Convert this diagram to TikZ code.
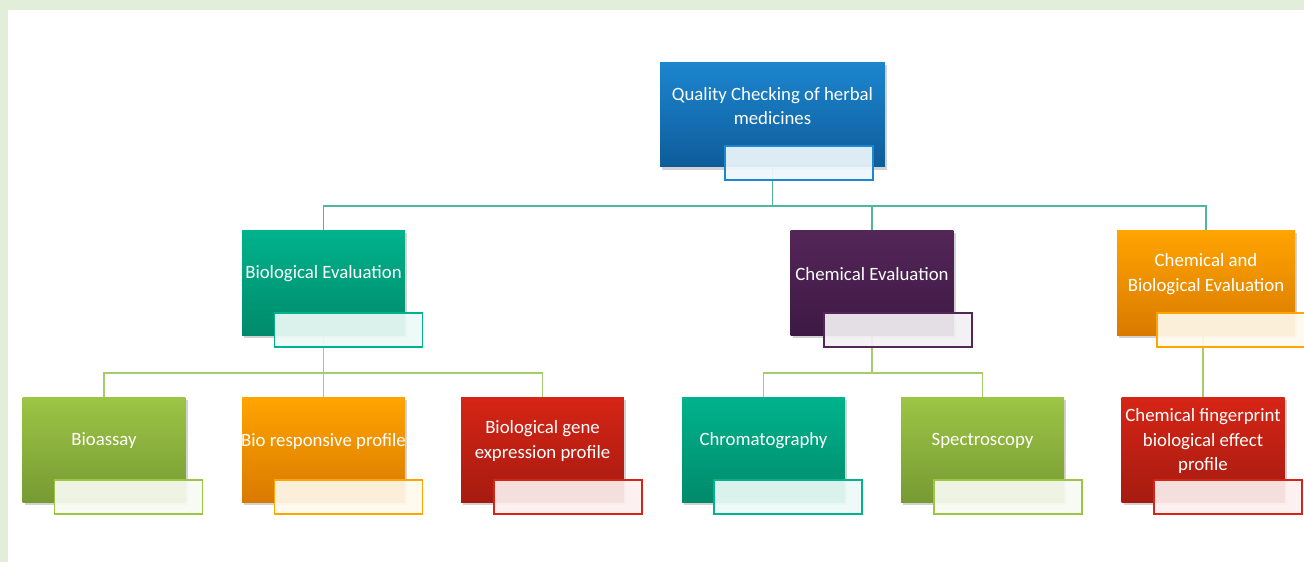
\documentclass[tikz,border=0pt]{standalone}
\usepackage{fontspec}
\setmainfont{Carlito}
\usetikzlibrary{positioning,shadows,backgrounds}

\definecolor{blueA}{HTML}{1C86CF}
\definecolor{blueB}{HTML}{0E5C9A}
\definecolor{tealA}{HTML}{00B38C}
\definecolor{tealB}{HTML}{008A6B}
\definecolor{plumA}{HTML}{532658}
\definecolor{plumB}{HTML}{3E1944}
\definecolor{amberA}{HTML}{FFA400}
\definecolor{amberB}{HTML}{D97A00}
\definecolor{leafA}{HTML}{9DC545}
\definecolor{leafB}{HTML}{779A33}
\definecolor{brickA}{HTML}{D52516}
\definecolor{brickB}{HTML}{A61B10}
\definecolor{frame}{HTML}{E2EED9}
\definecolor{linkT}{HTML}{4FB89C}
\definecolor{linkG}{HTML}{A6CB6A}

\tikzset{
  box/.style={rectangle, inner sep=0pt, minimum width=3.26cm, minimum height=2.1cm,
              top color=#1A, bottom color=#1B,
              drop shadow={shadow xshift=1.2pt, shadow yshift=-1.5pt, opacity=.35}},
  tag/.style={rectangle, inner sep=0pt, minimum width=2.96cm, minimum height=0.68cm,
              draw=#1A, line width=0.75pt, fill=#1A!7, fill opacity=.92},
  lbl/.style={text=white, align=center, inner sep=0pt,
              font=\fontsize{10.7}{14}\selectfont},
  link/.style={draw=#1, line width=1.1pt}
}

\begin{document}
\begin{tikzpicture}[x=0.02cm, y=-0.02cm]
\useasboundingbox (0,0) rectangle (1304,562);

% root
\node[box=blue, minimum width=4.5cm] (top) at (772.5,114.5) {};
\node[tag=blue] (topsub) at (799,163) {};
\node[lbl] (toptxt) at (772.5,106) {Quality Checking of herbal\\medicines};

% second row
\node[box=teal] (bio) at (323.5,282.5) {};
\node[tag=teal] (biosub) at (348.5,330) {};
\node[lbl] (biotxt) at (323.5,274) {Biological Evaluation};

\node[box=plum] (chem) at (872,282.5) {};
\node[tag=plum] (chemsub) at (898,330) {};
\node[lbl] (chemtxt) at (872,274) {Chemical Evaluation};

\node[box=amber, minimum width=3.56cm] (both) at (1206,282.5) {};
\node[tag=amber] (bothsub) at (1231,330) {};
\node[lbl] (bothtxt) at (1206,274) {Chemical and\\Biological Evaluation};

% third row
\node[box=leaf] (assay) at (104,449.5) {};
\node[tag=leaf] (assaysub) at (128.5,497) {};
\node[lbl] (assaytxt) at (104,441) {Bioassay};

\node[box=amber] (resp) at (323.5,449.5) {};
\node[tag=amber] (respsub) at (348.5,497) {};
\node[lbl] (resptxt) at (323.5,441) {Bio responsive profile};

\node[box=brick] (gene) at (542.5,449.5) {};
\node[tag=brick] (genesub) at (568,497) {};
\node[lbl] (genetxt) at (542.5,441) {Biological gene\\expression profile};

\node[box=teal] (chrom) at (763.5,449.5) {};
\node[tag=teal] (chromsub) at (788,497) {};
\node[lbl] (chromtxt) at (763.5,441) {Chromatography};

\node[box=leaf] (spec) at (982.5,449.5) {};
\node[tag=leaf] (specsub) at (1008,497) {};
\node[lbl] (spectxt) at (982.5,441) {Spectroscopy};

\node[box=brick] (print) at (1203,449.5) {};
\node[tag=brick] (printsub) at (1228,497) {};
\node[lbl] (printtxt) at (1203,441) {Chemical fingerprint\\biological effect\\profile};

\begin{scope}[on background layer]
\fill[frame] (0,0) rectangle (1304,562);
\fill[white] (8,10) rectangle (1304,562);
\draw[link=linkT] (top.south) -- ++(0,39) -| (bio.north);
\draw[link=linkT] (top.south) -- ++(0,39) -| (chem.north);
\draw[link=linkT] (top.south) -- ++(0,39) -| (both.north);
\foreach \kid in {assay,resp,gene}
  \draw[link=linkG] (bio.south) -- ++(0,38) -| (\kid.north);
\foreach \kid in {chrom,spec}
  \draw[link=linkG] (chem.south) -- ++(0,38) -| (\kid.north);
\draw[link=linkG] (both.south -| print.north) -- (print.north);
\end{scope}
\end{tikzpicture}
\end{document}
